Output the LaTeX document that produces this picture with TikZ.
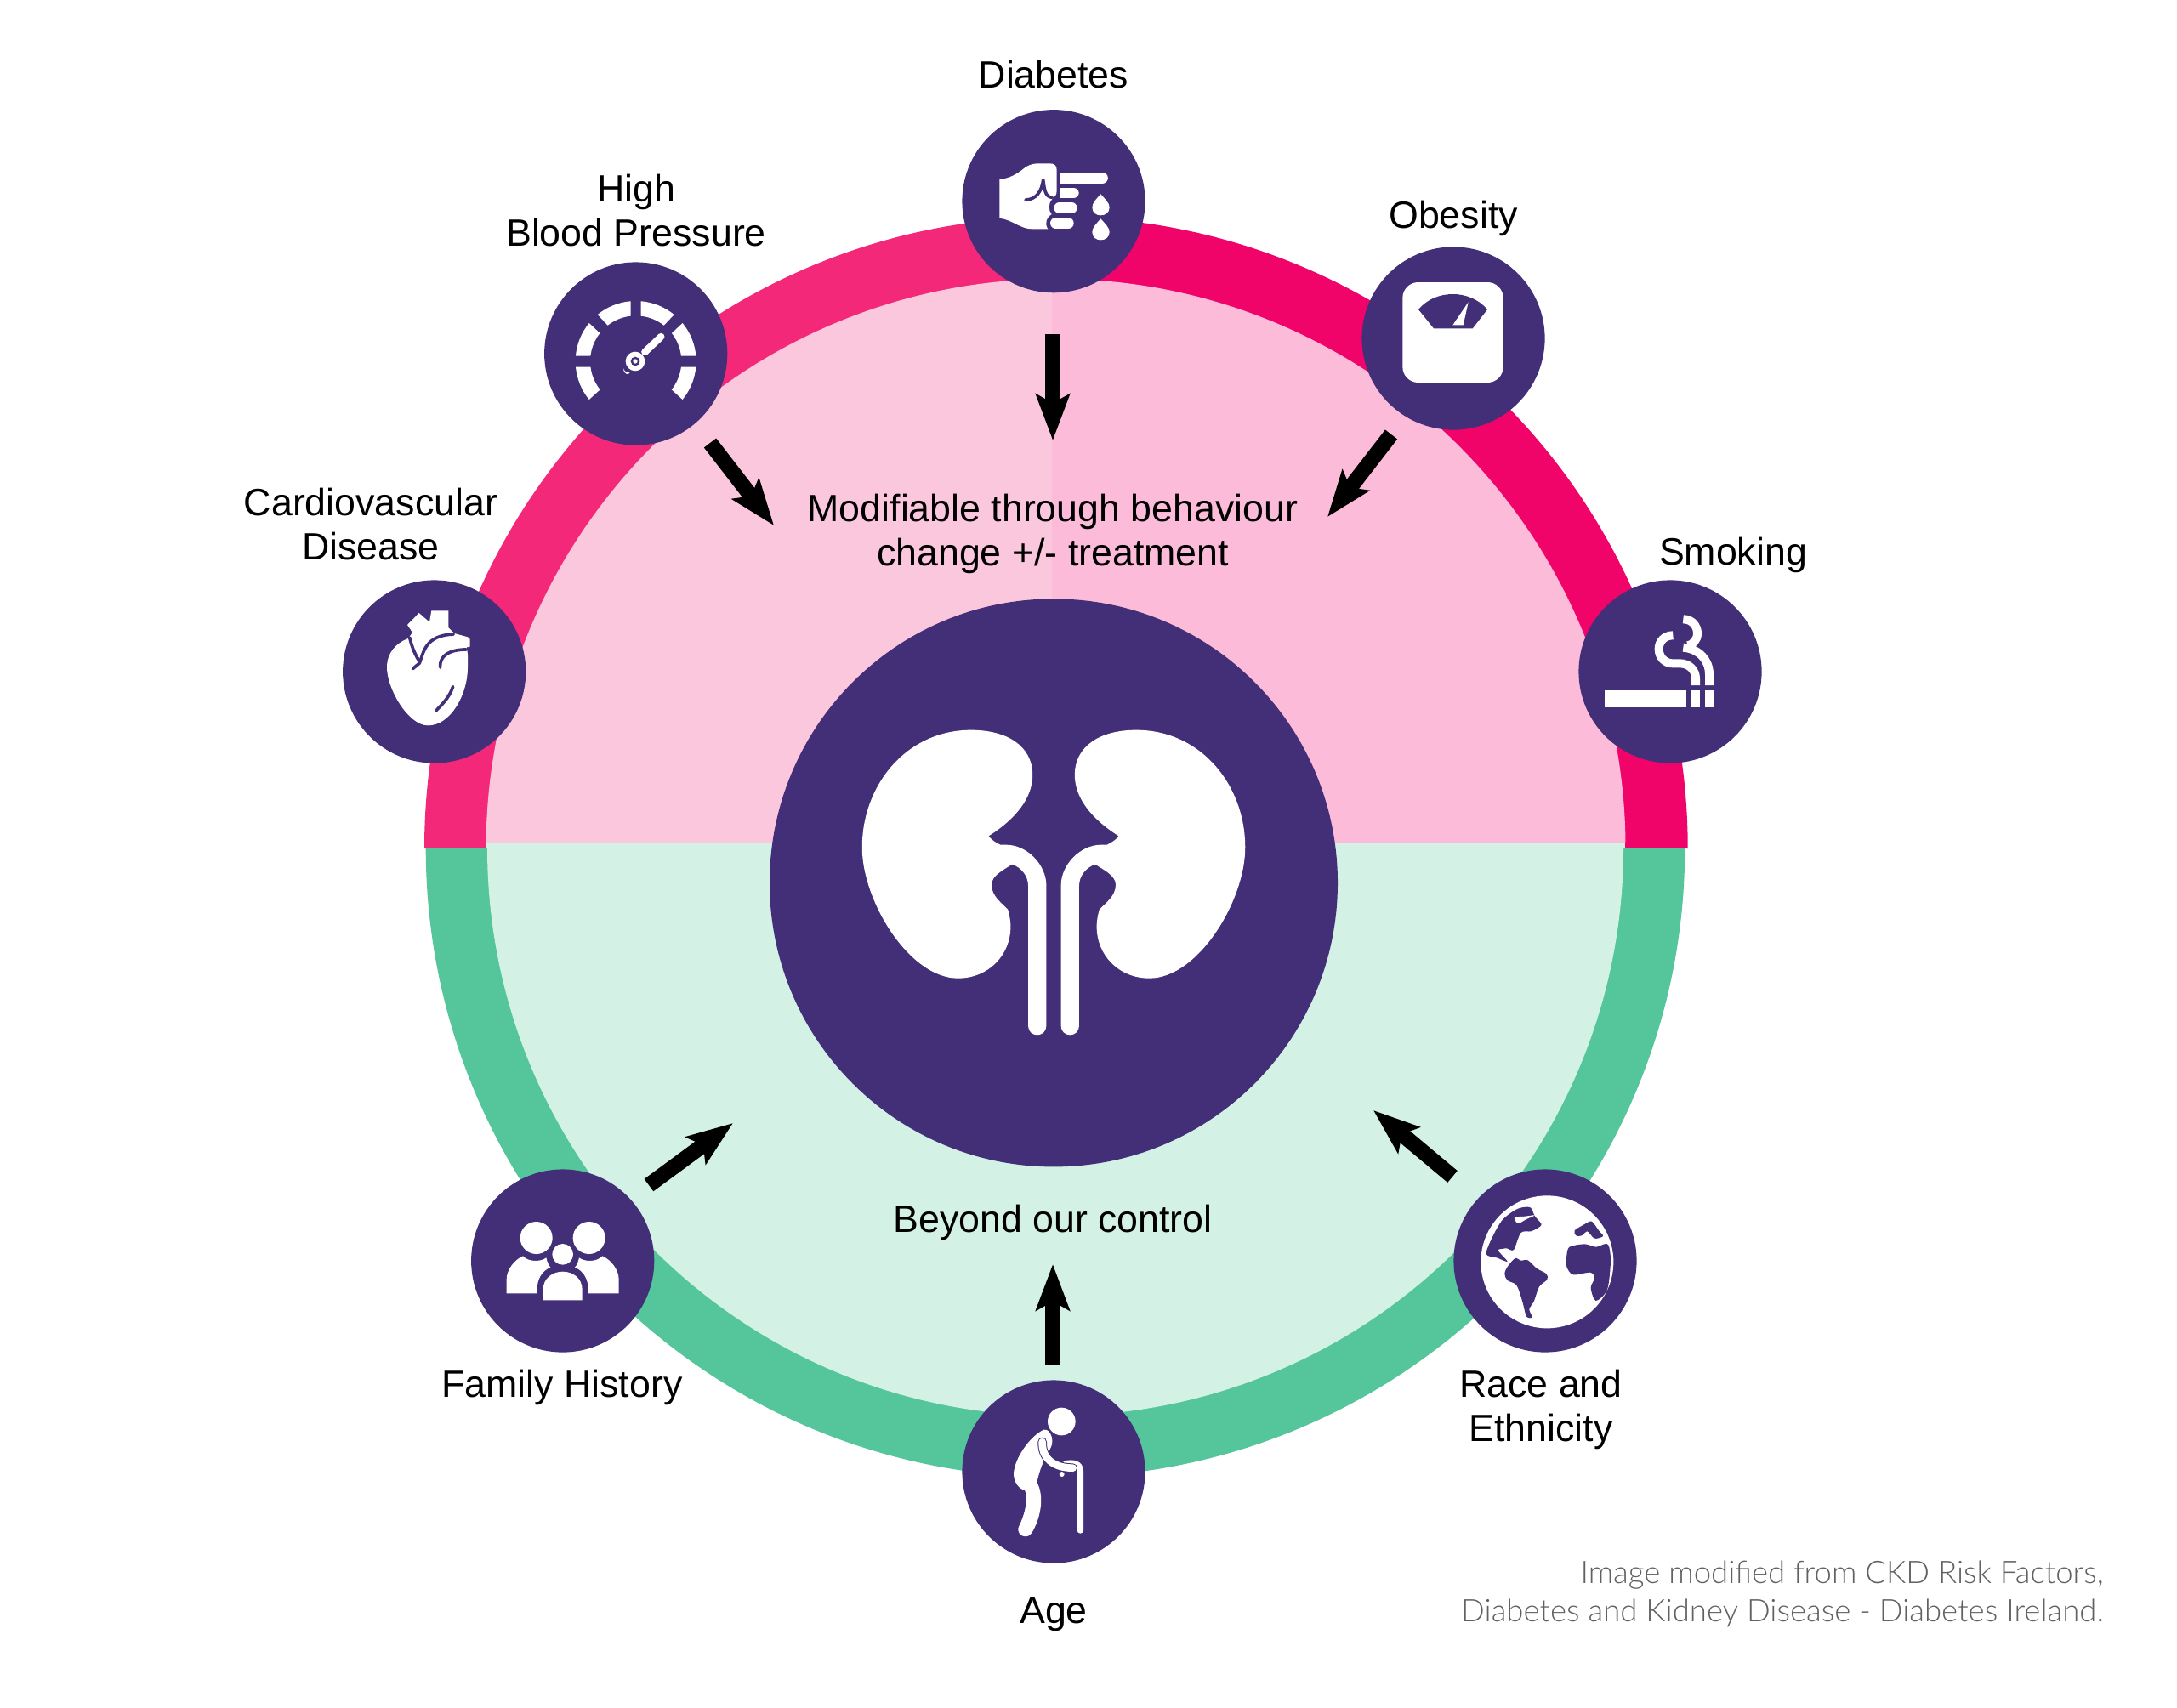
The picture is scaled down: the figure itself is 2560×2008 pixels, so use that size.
\documentclass[tikz,border=0pt]{standalone}
\usepackage{fontspec}
\setmainfont{Liberation Sans}
\newfontfamily\lightfont{Lato}[UprightFont=* Light]
\usetikzlibrary{arrows.meta}
\definecolor{ringL}{HTML}{F42878}
\definecolor{ringR}{HTML}{F0046A}
\definecolor{lightL}{HTML}{FBC7DC}
\definecolor{lightR}{HTML}{FBBBD9}
\definecolor{ringG}{HTML}{55C69B}
\definecolor{lightG}{HTML}{D4F1E5}
\definecolor{purp}{HTML}{432E78}
\tikzset{
  iconcircle/.style={circle,fill=purp,minimum size=53.8mm,inner sep=0pt,outer sep=0pt},
  hubcircle/.style={circle,fill=purp,minimum size=167mm,inner sep=0pt,outer sep=0pt},
  lab/.style={align=center,text=black,inner sep=0pt,font=\fontsize{31.8}{37}\selectfont},
  foot/.style={align=right,text=black!62,inner sep=0pt,anchor=base east,font=\lightfont\fontsize{26}{32}\selectfont},
  blockarrow/.style={line width=4.5mm,black,-{Stealth[length=13.5mm,width=9.8mm,inset=2.6mm]}},
  zw/.style={line width=#1*0.0833mm},
  zoomed/.style 2 args={shift={(#1,#2)},scale=0.33333},
  wh/.style={fill=white,draw=none},
  pl/.style={draw=purp,zw=11,line cap=round,line join=round,fill=none},
}
\newcommand{\gaugeseg}[4]{\fill[white] (#1:213) arc (#1:#2:213) -- (#4:161) arc (#4:#3:161) -- cycle;}
\newcommand{\gaugehalf}{\gaugeseg{174.6}{140.7}{172.9}{141.6}\gaugeseg{185.1}{219.3}{186.7}{218.1}\gaugeseg{230.7}{265.2}{232}{263.6}}
\newcommand{\kidneyshape}{\fill[white] (530,490) .. controls (600,445) and (680,370) .. (680,275) .. controls (680,170) and (590,116) .. (470,116) .. controls (250,116) and (98,310) .. (98,530) .. controls (98,720) and (260,992) .. (425,992) .. controls (530,992) and (605,910) .. (605,810) .. controls (605,785) and (600,765) .. (596,750) .. controls (580,730) and (540,705) .. (540,662) .. controls (540,630) and (580,610) .. (610,590) .. controls (640,600) and (665,630) .. (665,665) -- (665,1160) .. controls (665,1180) and (680,1192) .. (696,1192) .. controls (712,1192) and (727,1180) .. (727,1160) -- (727,665) .. controls (727,590) and (660,521) .. (590,521) -- (570,521) .. controls (555,513) and (540,505) .. (530,490) -- cycle;}
\newcommand{\dropshape}[1]{\fill[white,shift={(0,#1)}] (583,385) .. controls (570,400) and (553,415) .. (553,432) .. controls (553,450) and (567,460) .. (583,460) .. controls (600,460) and (614,450) .. (614,432) .. controls (614,415) and (596,400) .. (583,385) -- cycle;}
\newcommand{\famtorso}{\fill[white] (167,484) -- (167,435) .. controls (167,400) and (195,365) .. (225,352) .. controls (245,375) and (290,372) .. (307,358) .. controls (310,372) and (315,385) .. (322,392) .. controls (290,405) and (275,435) .. (275,470) -- (275,484) -- cycle;}
\begin{document}
\begin{tikzpicture}[x=0.25mm,y=-0.25mm]
\useasboundingbox (0,0) rectangle (2560,2008);
\fill[white] (0,0) rectangle (2560,2008);
% pink half
\fill[ringR] (1241.85,998) -- (1984.7,998) arc (0:-90:742.85) -- cycle;
\fill[ringL] (1241.85,998) -- (1241.85,255.15) arc (-90:-180:742.85) -- cycle;
\begin{scope}
\clip (0,0) rectangle (1237,991);
\fill[lightL] (1241.5,998) circle (670);
\end{scope}
\begin{scope}
\clip (1237,0) rectangle (2560,991);
\fill[lightR] (1241.5,998) circle (670);
\end{scope}
% green half
\begin{scope}
\clip (0,997.4) rectangle (2560,2008);
\fill[ringG] (1241,997.4) circle (740.3);
\fill[lightG] (1241,997.4) circle (668);
\end{scope}
\fill[lightG] (571,991) rectangle (1911,998);
% hub
\node[hubcircle] (hub) at (1239,1038.4) {};
\begin{scope}[shift={(980,820)},xscale=0.3444,yscale=0.33333]\kidneyshape\end{scope}
\begin{scope}[shift={(1498,820)},xscale=-0.3444,yscale=0.33333]\kidneyshape\end{scope}
% icon circles
\node[iconcircle] (diabetes) at (1239,236.7) {};
\node[iconcircle] (hbp) at (747.7,416) {};
\node[iconcircle] (obesity) at (1709,398) {};
\node[iconcircle] (cardio) at (510.7,790) {};
\node[iconcircle] (smoking) at (1964,790) {};
\node[iconcircle] (family) at (661.7,1483) {};
\node[iconcircle] (race) at (1817,1483) {};
\node[iconcircle] (age) at (1239,1731) {};
% diabetes icon
\begin{scope}[zoomed={1100}{100}]
\fill[white] (226,333) .. controls (260,330) and (285,315) .. (305,300) .. controls (325,283) and (340,277) .. (365,277) -- (405,277) .. controls (420,277) and (428,285) .. (428,300) -- (428,372) .. controls (428,390) and (420,395) .. (412,402) .. controls (398,415) and (398,445) .. (410,456) .. controls (395,462) and (382,488) .. (397,508) -- (340,508) .. controls (300,508) and (270,475) .. (226,470) -- cycle;
\draw[pl] (318,405) .. controls (355,405) and (375,375) .. (380,335) .. controls (385,365) and (385,395) .. (412,397);
\fill[white] (440,308) rectangle (480,347);
\draw[white,zw=39,line cap=round] (470,327.5) -- (589,327.5);
\fill[white] (440,362) rectangle (470,400);
\draw[white,zw=38,line cap=round] (460,381) -- (487,381);
\draw[white,zw=38,line cap=round] (437,434) -- (481,434);
\draw[white,zw=38,line cap=round] (424,487.5) -- (469,487.5);
\dropshape{0}\dropshape{87}
\end{scope}
% gauge icon
\begin{scope}[shift={(747.67,425)},scale=0.33333]\gaugehalf\end{scope}
\begin{scope}[shift={(747.67,425)},xscale=-0.33333,yscale=0.33333]\gaugehalf\end{scope}
\begin{scope}[zoomed={620}{290}]
\draw[white,zw=25,line cap=round] (415,372) -- (472,318);
\fill[white] (381,405) circle (34);
\fill[purp] (381,405) circle (16);
\fill[white] (381,405) circle (8);
\fill[white] (340,430) .. controls (342,440) and (350,446) .. (362,444) .. controls (358,456) and (338,450) .. (340,430) -- cycle;
\end{scope}
% scale icon
\begin{scope}[zoomed={1590}{270}]
\fill[white,rounded corners=4.6mm] (178,186) rectangle (533,540);
\fill[purp] (234,282) .. controls (265,245) and (310,228) .. (355,228) .. controls (400,228) and (445,245) .. (477,282) -- (425,349) -- (288,349) -- cycle;
\fill[white] (410,256) -- (392,337) -- (355,337) -- cycle;
\end{scope}
% heart icon
\begin{scope}[zoomed={390}{670}]
\fill[white] (267,195) -- (308,153) -- (345,185) -- (352,145) -- (412,145) -- (412,205) -- (433,225) -- (480,238) -- (488,245) -- (488,272) -- (476,274) .. controls (482,300) and (480,320) .. (480,345) .. controls (480,440) and (420,550) .. (340,550) .. controls (270,550) and (195,420) .. (195,345) .. controls (195,295) and (225,260) .. (270,243) -- (285,222) -- cycle;
\draw[pl] (286,350) -- (310,330) .. controls (325,290) and (330,232) .. (430,228);
\draw[pl] (275,240) .. controls (285,280) and (295,300) .. (310,325);
\draw[pl] (383,345) .. controls (380,300) and (420,282) .. (475,282);
\draw[pl] (368,498) .. controls (395,470) and (415,450) .. (428,413);
\end{scope}
% smoking icon
\begin{scope}[zoomed={1850}{670}]
\fill[white] (112,427) rectangle (400,485);
\fill[white] (417,427) rectangle (447,485);
\fill[white] (465,427) rectangle (495,485);
\draw[white,zw=30] (352,232) .. controls (320,232) and (302,255) .. (302,280) .. controls (302,310) and (325,331) .. (350,331) -- (375,331) .. controls (410,331) and (432,355) .. (432,385) -- (432,408);
\draw[white,zw=30] (388,175) .. controls (420,175) and (438,200) .. (438,225) .. controls (438,250) and (420,265) .. (405,268);
\draw[white,zw=30] (388,275) .. controls (445,280) and (480,320) .. (480,370) -- (480,408);
\end{scope}
% family icon
\begin{scope}[zoomed={540}{1360}]
\fill[white] (272,288) circle (57);
\fill[white] (458,288) circle (57);
\fill[white] (365,346) circle (37);
\famtorso
\begin{scope}[shift={(730,0)},xscale=-1]\famtorso\end{scope}
\fill[white] (296,508) -- (296,470) .. controls (296,430) and (330,407) .. (365,407) .. controls (400,407) and (434,430) .. (434,470) -- (434,508) -- cycle;
\end{scope}
% globe icon
\begin{scope}[zoomed={1700}{1360}]
\fill[white] (358,373) circle (234);
\fill[purp] plot[smooth cycle,tension=0.5] coordinates {(143,345) (165,285) (200,225) (245,190) (275,180) (300,182) (315,212) (338,240) (325,253) (300,265) (265,270) (240,330) (215,325) (185,330) (195,345) (218,372) (180,358)};
\fill[white] plot[smooth cycle,tension=0.5] coordinates {(243,216) (280,212) (315,208) (285,222) (255,237)};
\fill[purp] plot[smooth cycle,tension=0.5] coordinates {(208,415) (218,390) (245,360) (265,368) (290,367) (320,395) (355,415) (358,435) (330,460) (312,510) (295,540) (305,568) (285,565) (270,510) (250,455) (218,438)};
\fill[purp] plot[smooth cycle,tension=0.5] coordinates {(437,320) (490,310) (530,320) (560,310) (575,315) (582,370) (570,470) (530,510) (512,465) (525,430) (510,410) (450,418) (427,390) (427,350)};
\fill[purp] plot[smooth cycle,tension=0.5] coordinates {(455,262) (490,240) (515,230) (540,262) (555,282) (525,290) (500,265) (480,280) (460,280)};
\end{scope}
% age icon
\begin{scope}[zoomed={1120}{1610}]
\fill[white] (385,186) circle (49);
\fill[white] (322,215) .. controls (270,240) and (218,320) .. (216,370) .. controls (216,400) and (235,425) .. (255,428) .. controls (265,450) and (262,500) .. (235,555) .. controls (225,575) and (240,592) .. (258,592) .. controls (275,592) and (283,575) .. (290,560) .. controls (310,520) and (325,450) .. (298,400) .. controls (305,370) and (312,345) .. (335,295) .. controls (350,280) and (356,260) .. (350,240) .. controls (345,222) and (335,213) .. (322,215) -- cycle;
\draw[white,zw=22,line cap=round] (451,570) -- (451,360) .. controls (451,335) and (425,330) .. (400,335);
\draw[purp,zw=32,line cap=round] (317,258) .. controls (315,310) and (350,350) .. (425,350);
\draw[white,zw=26,line cap=round] (317,258) .. controls (315,310) and (350,350) .. (425,350);
\fill[white] (386,372) circle (9);
\end{scope}
% arrows
\coordinate (a1s) at (1238,393); \coordinate (a1e) at (1238,518);
\coordinate (a2s) at (835,521); \coordinate (a2e) at (910,618);
\coordinate (a3s) at (1636,511); \coordinate (a3e) at (1561,608);
\coordinate (a4s) at (763,1394); \coordinate (a4e) at (862,1321);
\coordinate (a5s) at (1708,1384); \coordinate (a5e) at (1615,1306);
\coordinate (a6s) at (1238,1605); \coordinate (a6e) at (1238,1487);
\draw[blockarrow] (a1s) -- (a1e);
\draw[blockarrow] (a2s) -- (a2e);
\draw[blockarrow] (a3s) -- (a3e);
\draw[blockarrow] (a4s) -- (a4e);
\draw[blockarrow] (a5s) -- (a5e);
\draw[blockarrow] (a6s) -- (a6e);
% labels
\node[lab] (tdiab) at (1239,88) {Diabetes};
\node[lab] (thbp) at (748,248) {High\\Blood Pressure};
\node[lab] (tob) at (1709,257) {Obesity};
\node[lab] (tsm) at (2038,653) {Smoking};
\node[lab] (tcv) at (436,617) {Cardiovascular\\Disease};
\node[lab] (tmod) at (1238,628) {Modifiable through behaviour\\change +/- treatment};
\node[lab] (tbey) at (1238,1438) {Beyond our control};
\node[lab] (tfam) at (661,1632) {Family History};
\node[lab] (trace) at (1812,1658) {Race and\\Ethnicity};
\node[lab] (tage) at (1239,1899) {Age};
\node[foot] (f1) at (2474,1862) {Image modified from CKD Risk Factors,};
\node[foot] (f2) at (2474,1907) {Diabetes and Kidney Disease - Diabetes Ireland.};
\end{tikzpicture}
\end{document}
